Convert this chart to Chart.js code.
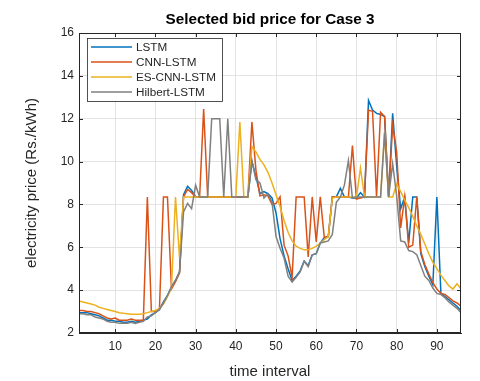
<!DOCTYPE html>
<html>
  <head>
    <meta charset="UTF-8" />
    <title>Selected bid price for Case 3</title>
    <script src="https://cdn.jsdelivr.net/npm/chart.js"></script>
    <style>
      html, body { margin: 0; padding: 0; background: #fff; }
      #myChart { display: block; }
    </style>
  </head>
  <body>
    <canvas id="myChart" width="480" height="381"></canvas>
    <script>
      // time intervals 1..96
      const intervals = Array.from({ length: 96 }, (_, i) => i + 1);
      const xTicks = [10, 20, 30, 40, 50, 60, 70, 80, 90];
      const yTicks = [2, 4, 6, 8, 10, 12, 14, 16];

      const lstm = [
        2.95, 2.95, 2.95, 2.9, 2.85, 2.8, 2.7, 2.6, 2.6, 2.55,
        2.55, 2.5, 2.5, 2.55, 2.5, 2.55, 2.6, 2.65, 2.85, 2.95,
        3.1, 3.45, 3.75, 4.15, 4.45, 4.85, 8.45, 8.85, 8.65, 8.35,
        8.35, 8.35, 8.35, 8.35, 8.35, 8.35, 8.35, 8.35, 8.35, 8.35,
        8.35, 8.35, 8.35, 10.0, 9.3, 8.5, 8.6, 8.5, 8.3, 7.6,
        6.4, 5.6, 5.0, 4.45, 4.65, 4.9, 5.35, 5.15, 5.65, 5.7,
        6.2, 6.45, 6.5, 8.35, 8.35, 8.75, 8.35, 8.35, 8.3, 8.3,
        8.55, 8.35, 12.85, 12.4, 12.25, 12.2, 12.1, 8.35, 12.25, 9.8,
        7.8, 8.35, 6.2, 8.35, 8.35, 5.7, 5.1, 4.65, 4.25, 8.35,
        3.85, 3.7, 3.55, 3.4, 3.25, 3.05
      ];
      const cnnLstm = [
        3.05, 3.05, 3.0, 3.0, 2.95, 2.9, 2.8, 2.7, 2.65, 2.7,
        2.6, 2.6, 2.6, 2.65, 2.6, 2.6, 2.6, 8.35, 3.0, 3.0,
        3.1, 8.35, 8.35, 4.05, 4.4, 4.8, 8.35, 8.7, 8.55, 8.35,
        8.35, 12.45, 8.35, 8.35, 8.35, 8.35, 8.35, 8.35, 8.35, 8.35,
        8.35, 8.35, 8.35, 11.85, 9.6, 8.4, 8.45, 8.4, 8.0, 8.05,
        8.35, 6.1, 5.6, 4.6, 8.35, 8.35, 8.35, 5.55, 8.35, 6.25,
        8.35, 6.45, 6.5, 8.35, 8.35, 8.35, 8.35, 8.35, 10.75, 8.25,
        8.3, 8.35, 12.4, 12.35, 8.35, 12.3, 12.1, 8.35, 11.7, 10.45,
        6.9, 8.35, 6.0, 6.1, 8.35, 5.8, 5.2, 4.75, 4.35, 4.05,
        3.85, 3.8, 3.65, 3.5, 3.4, 3.25
      ];
      const esCnnLstm = [
        3.5, 3.45, 3.4, 3.35, 3.3, 3.2, 3.15, 3.1, 3.05, 3.0,
        2.95, 2.92, 2.9, 2.88, 2.87, 2.87, 2.9, 2.95, 3.0, 3.05,
        3.15, 3.35, 3.7, 4.1, 8.35, 5.5, 8.35, 8.35, 8.35, 8.35,
        8.35, 8.35, 8.35, 8.35, 8.35, 8.35, 8.35, 8.35, 8.35, 8.35,
        11.85, 8.35, 8.35, 10.7, 10.45, 10.1, 9.85, 9.5, 9.0, 8.45,
        7.9, 7.25, 6.7, 6.3, 6.05, 5.95, 5.88, 5.88, 5.95, 6.05,
        6.2, 6.35, 6.5, 8.3, 8.35, 8.35, 8.35, 8.35, 8.35, 8.35,
        9.7, 8.35, 8.35, 8.35, 8.35, 8.35, 11.35, 8.35, 8.35, 8.95,
        8.6, 8.2, 7.85, 7.45, 7.0, 6.6, 6.15, 5.7, 5.3, 5.0,
        4.7, 4.45, 4.2, 4.05, 4.3, 4.05
      ];
      const hilbertLstm = [
        2.9, 2.9, 2.85, 2.85, 2.75, 2.7, 2.65, 2.55, 2.5, 2.5,
        2.45, 2.45, 2.45, 2.5, 2.45, 2.5, 2.55, 2.75, 2.8, 2.95,
        3.1, 3.4, 3.75, 4.15, 4.45, 4.85, 7.65, 8.05, 7.8, 8.9,
        8.35, 8.35, 8.35, 12.0, 12.0, 12.0, 8.35, 12.0, 8.35, 8.35,
        8.35, 8.35, 8.35, 10.05, 9.15, 9.0, 8.3, 8.5, 8.1, 6.5,
        5.95, 5.5, 4.65, 4.38, 4.6, 4.85, 5.35, 5.1, 5.65, 5.7,
        6.2, 6.25, 6.3, 6.6, 8.1, 8.35, 8.9, 10.05, 8.3, 8.35,
        8.35, 8.35, 8.35, 8.35, 8.35, 8.35, 11.35, 8.35, 9.9, 8.4,
        6.3, 6.25, 5.85, 5.8, 5.65, 5.15, 4.65, 4.45, 4.1, 3.85,
        3.8, 3.65, 3.45, 3.3, 3.15, 2.95
      ];

      const seriesNames = ['LSTM', 'CNN-LSTM', 'ES-CNN-LSTM', 'Hilbert-LSTM'];
      const seriesColors = ['#0072BD', '#D95319', '#EDB120', '#808080'];
      const seriesValues = [lstm, cnnLstm, esCnnLstm, hilbertLstm];

      const FONT = '"Liberation Sans", Arial, sans-serif';
      const AXIS_COLOR = '#262626';

      // frame, inward ticks, title and legend, MATLAB style
      const matlabBits = {
        id: 'matlabBits',
        afterDraw(chart) {
          const ctx = chart.ctx;
          const a = chart.chartArea;
          const xs = chart.scales.x, ys = chart.scales.y;
          ctx.save();
          ctx.strokeStyle = AXIS_COLOR;
          ctx.lineWidth = 1;
          ctx.strokeRect(a.left + 0.5, a.top + 0.5, a.right - a.left - 1, a.bottom - a.top - 1);
          ctx.beginPath();
          xTicks.forEach(v => {
            const px = Math.round(xs.getPixelForValue(v)) + 0.5;
            ctx.moveTo(px, a.bottom); ctx.lineTo(px, a.bottom - 4);
            ctx.moveTo(px, a.top); ctx.lineTo(px, a.top + 4);
          });
          yTicks.forEach(v => {
            const py = Math.round(ys.getPixelForValue(v)) + 0.5;
            ctx.moveTo(a.left, py); ctx.lineTo(a.left + 4, py);
            ctx.moveTo(a.right, py); ctx.lineTo(a.right - 4, py);
          });
          ctx.stroke();

          // title
          ctx.fillStyle = '#000';
          ctx.font = 'bold 15.3px ' + FONT;
          ctx.textAlign = 'center';
          ctx.textBaseline = 'alphabetic';
          ctx.fillText('Selected bid price for Case 3', (a.left + a.right) / 2, 24);

          // legend
          const lx = 87, ly = 38, lw = 135, lh = 63;
          ctx.fillStyle = '#fff';
          ctx.fillRect(lx, ly, lw, lh);
          ctx.strokeStyle = AXIS_COLOR;
          ctx.lineWidth = 0.8;
          ctx.strokeRect(lx + 0.5, ly + 0.5, lw, lh);
          ctx.font = '11.7px ' + FONT;
          ctx.textAlign = 'left';
          ctx.textBaseline = 'middle';
          seriesNames.forEach((name, i) => {
            const yy = ly + 9 + i * 15;
            ctx.strokeStyle = seriesColors[i];
            ctx.lineWidth = 1.6;
            ctx.beginPath();
            ctx.moveTo(lx + 4, yy); ctx.lineTo(lx + 45, yy);
            ctx.stroke();
            ctx.fillStyle = AXIS_COLOR;
            ctx.fillText(name, lx + 49, yy + 1);
          });
          ctx.restore();
        }
      };

      const ctx = document.getElementById('myChart').getContext('2d');
      new Chart(ctx, {
        type: 'line',
        data: {
          datasets: seriesNames.map((name, i) => ({
            label: name,
            data: intervals.map((t, k) => ({ x: t, y: seriesValues[i][k] })),
            borderColor: seriesColors[i],
            backgroundColor: seriesColors[i],
            borderWidth: 1.5,
            pointRadius: 0,
            tension: 0,
            fill: false,
            order: seriesNames.length - i
          }))
        },
        options: {
          responsive: false,
          animation: false,
          layout: { padding: { left: 0, right: 19, top: 33, bottom: 0 } },
          plugins: {
            legend: { display: false },
            title: { display: false },
            tooltip: { enabled: false }
          },
          scales: {
            x: {
              type: 'linear',
              min: 1,
              max: 96,
              afterBuildTicks: s => { s.ticks = xTicks.map(v => ({ value: v })); },
              afterFit: s => { s.height = 48; },
              grid: { color: '#e3e3e3', drawTicks: false },
              border: { color: AXIS_COLOR },
              ticks: { color: AXIS_COLOR, padding: 6, maxRotation: 0, font: { family: FONT, size: 12 } },
              title: {
                display: true,
                text: 'time interval',
                color: AXIS_COLOR,
                padding: { top: 10, bottom: 0 },
                font: { family: FONT, size: 15 }
              }
            },
            y: {
              min: 2,
              max: 16,
              afterBuildTicks: s => { s.ticks = yTicks.map(v => ({ value: v })); },
              afterFit: s => { s.width = 79; },
              grid: { color: '#e3e3e3', drawTicks: false },
              border: { color: AXIS_COLOR },
              ticks: { color: AXIS_COLOR, padding: 5, font: { family: FONT, size: 12 } },
              title: {
                display: true,
                text: 'electricity price (Rs./kWh)',
                color: AXIS_COLOR,
                padding: { top: 23, bottom: 0 },
                font: { family: FONT, size: 15 }
              }
            }
          }
        },
        plugins: [matlabBits]
      });
    </script>
  </body>
</html>
